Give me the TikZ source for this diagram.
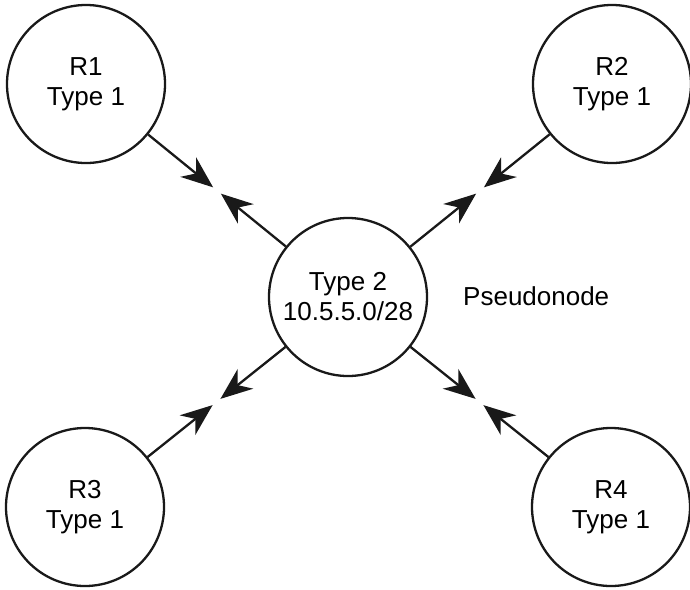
\documentclass[tikz,border=0pt]{standalone}
\usepackage{fontspec}
\setmainfont{Liberation Sans}
\usetikzlibrary{arrows.meta,calc}
\begin{document}
\begin{tikzpicture}[x=1pt,y=-1pt,
  rnode/.style={draw=black!90, line width=2.3pt, circle, minimum size=158pt, inner sep=0pt, align=center,
    font=\fontsize{26}{30}\selectfont},
  link/.style={draw=black!90, line width=2.3pt, -{Stealth[length=32pt,width=25pt,inset=10pt]}, shorten >=5pt},
  lbl/.style={font=\fontsize{26}{30}\selectfont, inner sep=0pt}]
\useasboundingbox (0,0) rectangle (690,589);
\node[rnode] (R1) at (86,84) {R1\\Type 1};
\node[rnode] (R2) at (612,84) {R2\\Type 1};
\node[rnode] (R3) at (85,507) {R3\\Type 1};
\node[rnode] (R4) at (611,507) {R4\\Type 1};
\node[rnode] (C) at (348,297) {Type 2\\10.5.5.0/28};
\node[lbl, anchor=base west] (P) at (463,305) {Pseudonode};
\coordinate (m1) at ($(R1)!0.5!(C)$);
\coordinate (m2) at ($(R2)!0.5!(C)$);
\coordinate (m3) at ($(R3)!0.5!(C)$);
\coordinate (m4) at ($(R4)!0.5!(C)$);
\draw[link] (R1) -- (m1);
\draw[link] (C) -- (m1);
\draw[link] (R2) -- (m2);
\draw[link] (C) -- (m2);
\draw[link] (R3) -- (m3);
\draw[link] (C) -- (m3);
\draw[link] (R4) -- (m4);
\draw[link] (C) -- (m4);
\end{tikzpicture}
\end{document}
